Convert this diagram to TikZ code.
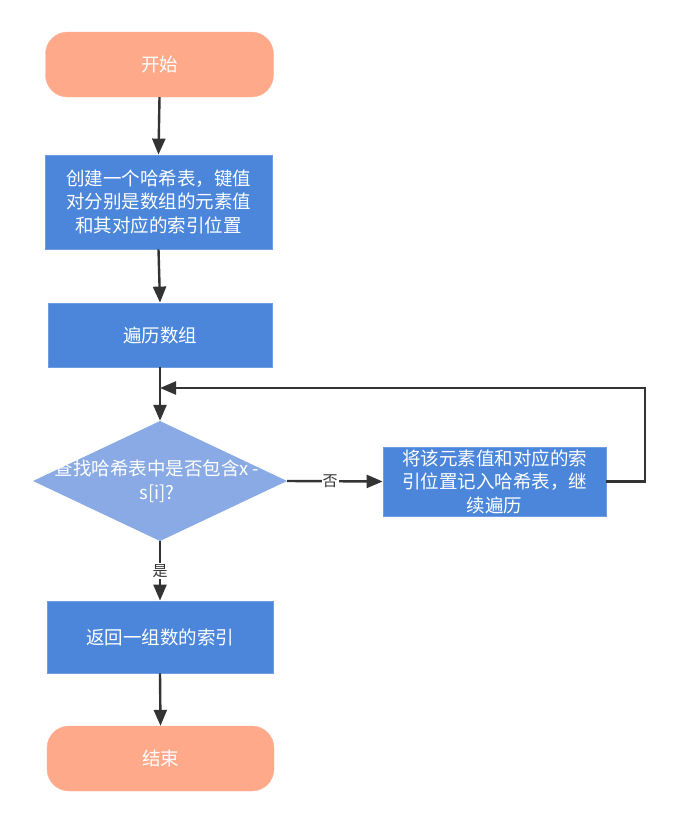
\documentclass[tikz,border=0pt]{standalone}
\usepackage{fontspec}
\setmainfont{Noto Sans CJK SC}
\usetikzlibrary{shapes.geometric,arrows.meta}
\definecolor{salmon}{HTML}{FFA98B}
\definecolor{boxblue}{HTML}{4B86DB}
\definecolor{boxedge}{HTML}{6E9DE3}
\definecolor{diablue}{HTML}{8AAAE5}
\definecolor{linegray}{HTML}{333333}
\begin{document}
\begin{tikzpicture}[x=1pt,y=-1pt,
  txt/.style={text=white,font=\fontsize{18.5}{23.5}\selectfont,align=center},
  term/.style={txt,fill=salmon,draw=salmon!85!white,rounded corners=22pt,minimum width=228pt,minimum height=65pt,inner sep=0pt},
  proc/.style={txt,fill=boxblue,draw=boxedge,line width=0.8pt,inner sep=0pt},
  conn/.style={draw=linegray,line width=2.4pt,-{Triangle[length=16pt,width=13pt]}},
  lbl/.style={fill=white,text=linegray,font=\fontsize{15}{17}\selectfont,inner sep=1pt}]
\useasboundingbox (0,0) rectangle (675,822);
\node[term] (start) at (159.5,64.5) {开始};
\node[proc,minimum width=227pt,minimum height=94pt] (create) at (158.5,202) {创建一个哈希表，键值\\对分别是数组的元素值\\和其对应的索引位置};
\node[proc,minimum width=224pt,minimum height=64pt] (iter) at (160,335) {遍历数组};
\coordinate (merge) at (160,388);
\path[fill=diablue] (33,481) -- (160,421) -- (287,481) -- (160,541) -- cycle;
\node[inner sep=0pt,minimum width=254pt,minimum height=120pt] (find) at (160,481) {};
\node[txt] at (157,481) {查找哈希表中是否包含x -\\s[i]?};
\node[proc,minimum width=223pt,minimum height=69pt] (store) at (494.5,481.5) {将该元素值和对应的索\\引位置记入哈希表，继\\续遍历};
\node[proc,minimum width=226pt,minimum height=72pt] (ret) at (160,637) {返回一组数的索引};
\node[term,minimum width=227pt] (end) at (160.5,758.5) {结束};
\coordinate (rt) at (645,481.5);
\coordinate (rtop) at (645,388);
\draw[conn] (start.south) -- (create.north);
\draw[conn] (create.south) -- (iter.north);
\draw[conn] (iter.south) -- (find.north);
\draw[conn] (find.east) -- node[lbl,pos=0.45]{否} (store.west);
\draw[conn] (store.east) -- (rt) -- (rtop) -- (merge);
\draw[conn] (find.south) -- node[lbl,pos=0.5]{是} (ret.north);
\draw[conn] (ret.south) -- (end.north);
\end{tikzpicture}
\end{document}
